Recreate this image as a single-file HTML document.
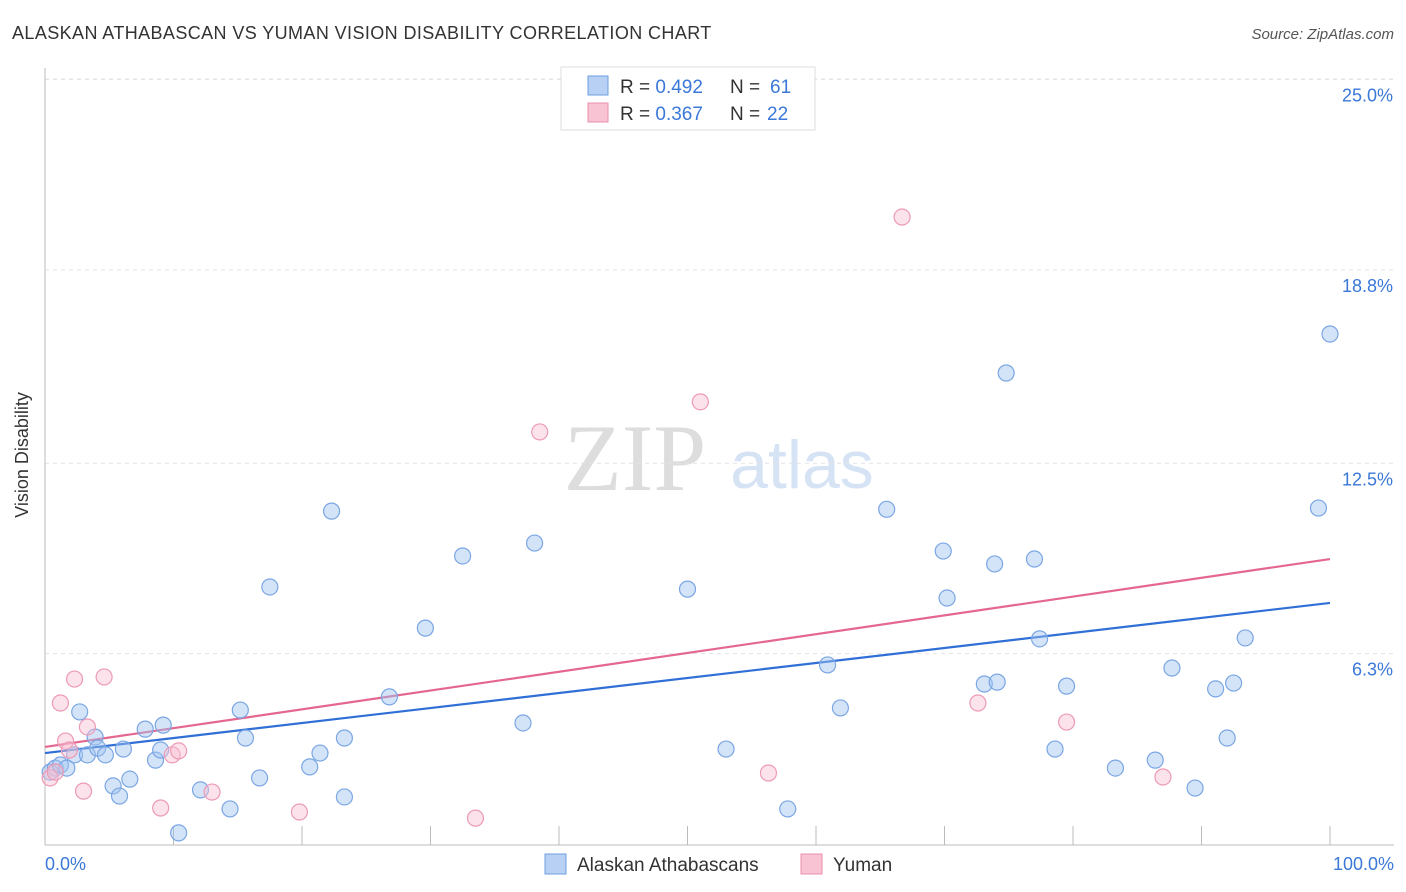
<!DOCTYPE html>
<html><head><meta charset="utf-8">
<style>
body{margin:0;background:#fff;font-family:"Liberation Sans",sans-serif;}
#wrap{position:relative;width:1406px;height:892px;overflow:hidden;}
</style></head>
<body>
<div id="wrap">
<svg id="svg" width="1406" height="892" xmlns="http://www.w3.org/2000/svg">
<text x="12" y="39" font-size="18" fill="#333" style="letter-spacing:0.4px">ALASKAN ATHABASCAN VS YUMAN VISION DISABILITY CORRELATION CHART</text>
<text x="1394" y="39" font-size="15" fill="#555" text-anchor="end" font-style="italic">Source: ZipAtlas.com</text>
<text x="28" y="455" font-size="18" fill="#333" text-anchor="middle" transform="rotate(-90 28 455)">Vision Disability</text>
<g>
<text x="635" y="490" font-size="95" fill="#ddd" font-family="Liberation Serif,serif" text-anchor="middle">ZIP</text>
<text x="802" y="488" font-size="68" fill="#d5e3f5" text-anchor="middle">atlas</text>
</g>
<g id="grid"></g><g id="axes"></g><g id="lines"></g><g id="pts"></g>
<g>
<rect x="561" y="67" width="254" height="63" fill="#fff" stroke="#ddd"/>
<rect x="588" y="76" width="20" height="19" fill="#b7d0f4" stroke="#6e9fe0"/>
<rect x="588" y="103" width="20" height="19" fill="#f8c3d3" stroke="#ea8fae"/>
<text x="620" y="93" font-size="19" fill="#333">R = <tspan fill="#3b78d8">0.492</tspan><tspan x="730">N = </tspan><tspan fill="#3b78d8" x="770">61</tspan></text>
<text x="620" y="120" font-size="19" fill="#333">R = <tspan fill="#3b78d8">0.367</tspan><tspan x="730">N = </tspan><tspan fill="#3b78d8" x="767">22</tspan></text>
</g>
<g>
<rect x="545" y="854" width="21" height="20" fill="#b7d0f4" stroke="#6e9fe0"/>
<text x="577" y="871" font-size="19" fill="#333">Alaskan Athabascans</text>
<rect x="801" y="854" width="21" height="20" fill="#f8c3d3" stroke="#ea8fae"/>
<text x="833" y="871" font-size="19" fill="#333">Yuman</text>
</g>
</svg>
</div>
<script>
const blueX=[0.4,0.8,1.2,1.7,2.3,2.7,3.3,3.9,4.1,4.7,5.3,5.8,6.1,6.6,7.8,8.6,9.0,9.2,10.4,12.1,14.4,15.2,15.6,16.7,17.5,20.6,21.4,22.3,23.3,23.3,26.8,29.6,32.5,37.2,38.1,50.0,53.0,57.8,60.9,61.9,65.5,69.9,70.2,73.1,73.9,74.1,74.8,77.0,77.4,78.6,79.5,83.3,86.4,87.7,89.5,91.1,92.0,92.5,93.4,99.1,100];
const blueY=[2.44,2.57,2.67,2.57,3.0,4.4,3.0,3.58,3.22,3.0,1.99,1.66,3.19,2.21,3.84,2.83,3.16,3.97,0.46,1.86,1.24,4.46,3.55,2.25,8.47,2.61,3.06,10.94,3.55,1.63,4.89,7.13,9.48,4.04,9.9,8.4,3.19,1.24,5.93,4.53,11.0,9.64,8.11,5.31,9.22,5.37,15.44,9.38,6.78,3.19,5.24,2.57,2.83,5.83,1.92,5.15,3.55,5.34,6.81,11.04,16.71];
const pinkX=[0.4,0.8,1.2,1.6,1.9,2.3,3.0,3.3,4.6,9.0,9.9,10.4,13.0,19.8,33.5,38.5,51.0,56.3,66.7,72.6,79.5,87.0];
const pinkY=[2.25,2.44,4.69,3.45,3.16,5.47,1.82,3.91,5.54,1.27,3.0,3.13,1.79,1.14,0.94,13.52,14.5,2.41,20.52,4.69,4.07,2.28];
const blueTrend=[3.06,7.95];
const pinkTrend=[3.26,9.38];
const yTicks=[6.3,12.5,18.8,25.0];
const yTickLabels=["6.3%","12.5%","18.8%","25.0%"];
const xTicks=[10,20,30,40,50,60,70,80,90,100];

const NS="http://www.w3.org/2000/svg";
const X=v=>45+v*12.85;
const Y=v=>847-v*30.7;
function mk(tag,attrs,parent){const e=document.createElementNS(NS,tag);for(const k in attrs)e.setAttribute(k,attrs[k]);document.getElementById(parent).appendChild(e);return e;}
yTicks.forEach((t,i)=>{
  const l=mk('line',{x1:45,x2:1394,y1:Y(t),y2:Y(t),stroke:'#e4e4e4','stroke-dasharray':'4,4'},'grid');
  
  
  const tx=mk('text',{x:1393,y:Y(t)+22,'font-size':18,fill:'#3b78d8','text-anchor':'end'},'grid');
  tx.textContent=yTickLabels[i];
  
  
});
const topGrid=mk('line',{x1:45,x2:1394,y1:79,y2:79,stroke:'#e4e4e4','stroke-dasharray':'4,4'},'grid');


const ya=mk('line',{x1:45,x2:45,y1:68,y2:845,stroke:'#bbb'},'axes');


const xa=mk('line',{x1:45,x2:1394,y1:845,y2:845,stroke:'#bbb'},'axes');


xTicks.forEach(t=>{const l=mk('line',{x1:X(t),x2:X(t),y1:826,y2:845,stroke:'#bbb'},'axes');
  
  });
const x0=mk('text',{x:45,y:870,'font-size':18,fill:'#3b78d8'},'axes');x0.textContent='0.0%';


const x1=mk('text',{x:1394,y:870,'font-size':18,fill:'#3b78d8','text-anchor':'end'},'axes');x1.textContent='100.0%';


blueX.forEach((x,i)=>{const c=mk('circle',{cx:X(x),cy:Y(blueY[i]),r:8,fill:'rgba(160,195,240,0.45)',stroke:'#7aa6e4','stroke-width':1.2},'pts');
  
  });
pinkX.forEach((x,i)=>{const c=mk('circle',{cx:X(x),cy:Y(pinkY[i]),r:8,fill:'rgba(248,190,210,0.45)',stroke:'#ec9ab6','stroke-width':1.2},'pts');
  
  });
const bl=mk('line',{x1:X(0),x2:X(100),y1:Y(blueTrend[0]),y2:Y(blueTrend[1]),stroke:'#2f6fd6','stroke-width':2.2},'lines');


const pl=mk('line',{x1:X(0),x2:X(100),y1:Y(pinkTrend[0]),y2:Y(pinkTrend[1]),stroke:'#e4678f','stroke-width':2.2},'lines');


</script>
</body></html>
